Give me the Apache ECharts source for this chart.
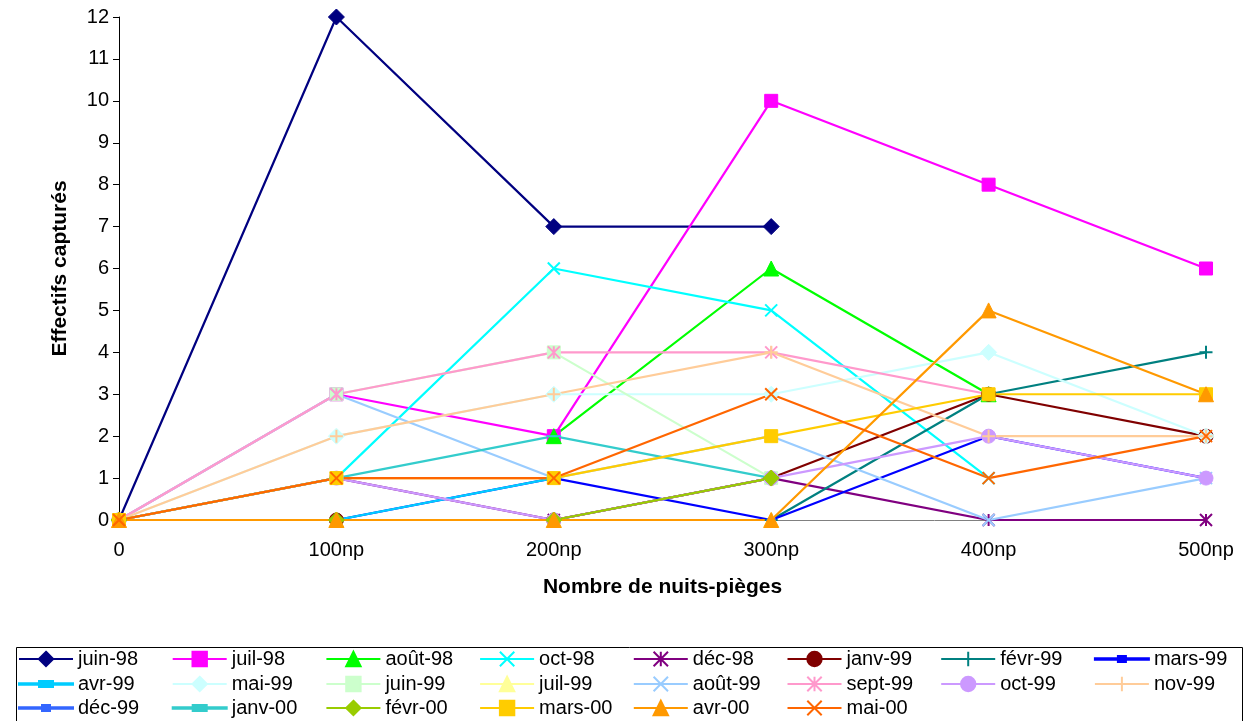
<!DOCTYPE html>
<html><head><meta charset="utf-8">
<script src="https://cdn.jsdelivr.net/npm/echarts@6/dist/echarts.min.js"></script>
<style>html,body{margin:0;padding:0;background:#fff}#c{width:1245px;height:721px}</style>
</head><body><div id="c"></div>
<script>
const categories = ['0','100np','200np','300np','400np','500np'];
const yTicks = [0,1,2,3,4,5,6,7,8,9,10,11,12];
const seriesNames = ['juin-98','juil-98','août-98','oct-98','déc-98','janv-99','févr-99','mars-99',
  'avr-99','mai-99','juin-99','juil-99','août-99','sept-99','oct-99','nov-99',
  'déc-99','janv-00','févr-00','mars-00','avr-00','mai-00'];
const juin98 = [0,12,7,7,null,null];
const juil98 = [0,3,2,10,8,6];
const aout98 = [null,null,2,6,3,null];
const oct98  = [0,1,6,5,1,null];
const dec98  = [0,1,0,1,0,0];
const janv99 = [0,0,0,1,3,2];
const fevr99 = [0,0,0,0,3,4];
const mars99 = [0,0,1,0,2,1];
const avr99  = [0,0,1,null,null,null];
const mai99  = [0,2,3,3,4,2];
const juin99 = [0,3,4,1,null,null];
const juil99 = [0,0,0,0,null,null];
const aout99 = [0,3,1,2,0,1];
const sept99 = [0,3,4,4,3,null];
const oct99  = [0,1,0,1,2,1];
const nov99  = [0,2,3,4,2,2];
const dec99  = [0,0,0,0,null,null];
const janv00 = [0,1,2,1,null,null];
const fevr00 = [0,0,0,1,null,null];
const mars00 = [0,1,1,2,3,3];
const avr00  = [0,0,0,0,5,3];
const mai00  = [0,1,1,3,1,2];
const seriesValues = [juin98,juil98,aout98,oct98,dec98,janv99,fevr99,mars99,
  avr99,mai99,juin99,juil99,aout99,sept99,oct99,nov99,
  dec99,janv00,fevr00,mars00,avr00,mai00];

const colors = ['#000080','#FF00FF','#00FF00','#00FFFF','#800080','#800000','#008080','#0000FF',
  '#00CCFF','#CCFFFF','#CCFFCC','#FFFF99','#99CCFF','#FF99CC','#CC99FF','#FFCC99',
  '#3366FF','#33CCCC','#99CC00','#FFCC00','#FF9900','#FF6600'];
const XS = 'path://M0,0L10,10M10,0L0,10';
const STAR = 'path://M0,0L10,10M10,0L0,10M5,0L5,10';
const PLUS = 'path://M5,0L5,10M0,5L10,5';
const SDASH = 'path://M0,0L8,0L8,5L0,5Z';
const LDASH = 'path://M0,0L14,0L14,5L0,5Z';
const SDASH_LEG = 'path://M0,2.2L54,2.2L54,3.8L0,3.8Z M23,0L31,0L31,6L23,6Z';
const LDASH_LEG = 'path://M0,2.2L54,2.2L54,3.8L0,3.8Z M20,0L34,0L34,6L20,6Z';
const markers = [
  ['diamond',16,1],['rect',13,1],['triangle',15,1],[XS,12,2],[STAR,12,2],['circle',14,1],[PLUS,13,2],[SDASH,[8,5],1],
  [LDASH,[13,5],1],['diamond',16,1],['rect',13,1],['triangle',15,1],[XS,12,2],[STAR,12,2],['circle',14,1],[PLUS,13,2],
  [SDASH,[8,5],1],[LDASH,[13,5],1],['diamond',16,1],['rect',13,1],['triangle',15,1],[XS,12,2]
];
const FONT = '"Liberation Sans", Arial, sans-serif';

const series = seriesNames.map((name,i)=>({
  name, type:'line', data: seriesValues[i],
  symbol: markers[i][0], symbolSize: markers[i][1], symbolKeepAspect: true,
  showAllSymbol: true, connectNulls: false,
  lineStyle:{color:colors[i], width:2.2},
  itemStyle:{color:colors[i], borderColor:colors[i], borderWidth:markers[i][2]},
  emphasis:{disabled:true}, animation:false
}));

const legends = seriesNames.map((name,i)=>{
  const col = i % 8, row = Math.floor(i/8);
  const cy = [658,683,707][row];
  const sym = markers[i][0];
  const isDash = sym === SDASH || sym === LDASH;
  const item = isDash ? {name, icon: sym === SDASH ? SDASH_LEG : LDASH_LEG} : name;
  const h = isDash ? 6 : 18;
  return {
    data:[item], left: 18 + col*153.7, top: cy - 9,
    itemWidth:54, itemHeight:h, itemGap:0, padding:0, selectedMode:false,
    textStyle:{fontSize:20, fontFamily:FONT, color:'#000'}
  };
});

const chart = echarts.init(document.getElementById('c'), null, {renderer:'canvas'});
chart.setOption({
  animation:false,
  backgroundColor:'#fff',
  grid:{left:119, right:39, top:17, bottom:201, containLabel:false},
  xAxis:{type:'category', data:categories, boundaryGap:false,
    name:'Nombre de nuits-pièges', nameLocation:'middle', nameGap:57,
    nameTextStyle:{fontSize:21, fontWeight:'bold', fontFamily:FONT, color:'#000'},
    axisLine:{lineStyle:{color:'#808080', width:1}},
    axisTick:{show:true, inside:false, length:5, alignWithLabel:true, lineStyle:{color:'#000'}},
    axisLabel:{fontSize:20, fontFamily:FONT, color:'#000', margin:20},
    splitLine:{show:false}},
  yAxis:{type:'value', min:0, max:12, interval:1,
    name:'Effectifs capturés', nameLocation:'middle', nameGap:48,
    nameTextStyle:{fontSize:21, fontWeight:'bold', fontFamily:FONT, color:'#000'},
    axisLine:{show:true, lineStyle:{color:'#000', width:1}},
    axisTick:{show:true, length:6, lineStyle:{color:'#000'}},
    axisLabel:{fontSize:20, fontFamily:FONT, color:'#000', margin:10,
      formatter:(v)=> yTicks.includes(v) ? String(v) : ''},
    splitLine:{show:false}},
  legend: legends,
  graphic:[{type:'rect', left:14, top:645, shape:{width:1226, height:74},
    style:{fill:'none', stroke:'#000', lineWidth:1}, silent:true}],
  series
});
</script></body></html>
